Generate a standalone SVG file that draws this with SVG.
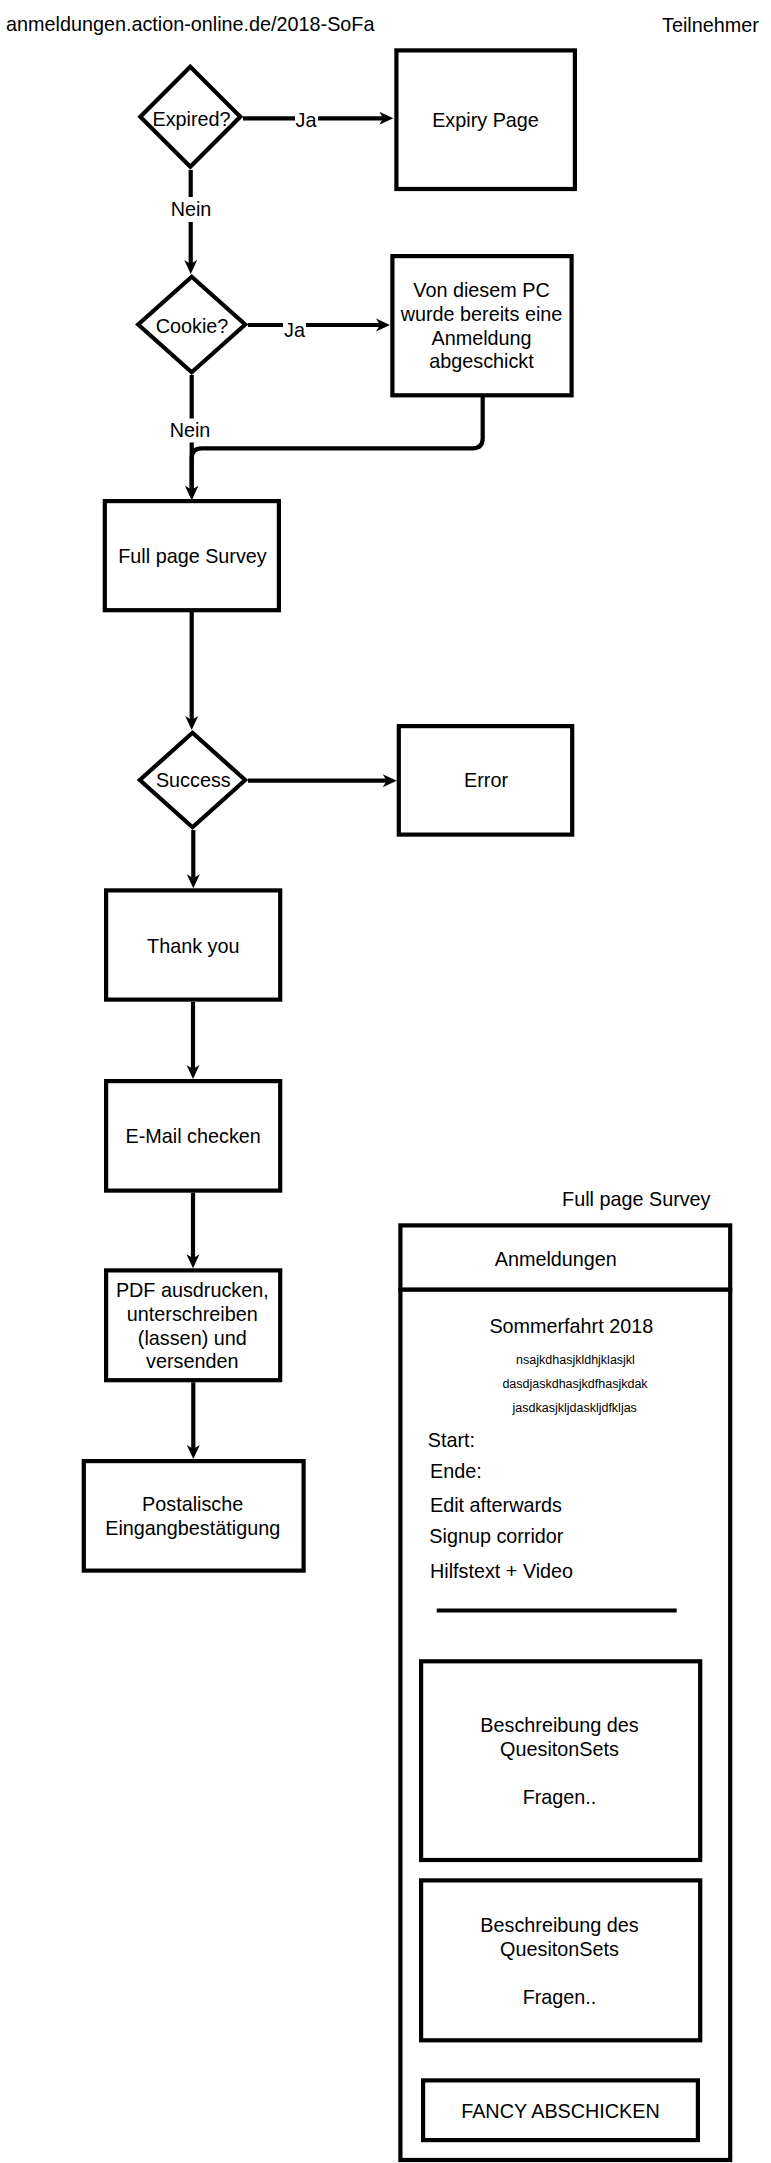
<svg xmlns="http://www.w3.org/2000/svg" width="771" height="2163" viewBox="0 0 771 2163">
<style>
text{font-family:"Liberation Sans",Arial,Helvetica,sans-serif;font-size:19.8px;fill:#000}
.c{text-anchor:middle}
.s{font-size:12.5px}
.shape{fill:#fff;stroke:#000;stroke-width:4.2}
.edge{fill:none;stroke:#000;stroke-width:4.2}
.arr{marker-end:url(#ah)}
.lbg{fill:#fff}
</style>
<defs>
<marker id="ah" markerUnits="userSpaceOnUse" markerWidth="16" markerHeight="16" refX="6" refY="6.5" orient="auto" overflow="visible">
<path d="M0,0 L14,6.5 L0,13 L4,6.5 Z" fill="#000"/>
</marker>
</defs>
<rect width="771" height="2163" fill="#fff"/>
<g id="title"><text x="6" y="30.7">anmeldungen.action-online.de/2018-SoFa</text></g>
<g id="teilnehmer"><text x="662" y="32">Teilnehmer</text></g>
<g id="connectors">
<path class="edge arr" d="M243 118.3 H385.3"/>
<path class="edge arr" d="M190.7 170 V266"/>
<path class="edge arr" d="M248 325 H382"/>
<path class="edge arr" d="M191.7 375 V492"/>
<path class="edge arr" d="M482.7 397 V438.3 Q482.7 448.3 472.7 448.3 H201.7 Q191.7 448.3 191.7 458.3 V492"/>
<path class="edge arr" d="M191.7 612 V722"/>
<path class="edge arr" d="M248 780.7 H388.7"/>
<path class="edge arr" d="M193.3 830 V880.3"/>
<path class="edge arr" d="M193 1002 V1071"/>
<path class="edge arr" d="M193 1192.7 V1260.3"/>
<path class="edge arr" d="M193.3 1382.3 V1451"/>
<rect class="lbg" x="295" y="109" width="23" height="21"/>
<text class="c" x="306" y="126.7">Ja</text>
<rect class="lbg" x="283" y="320" width="23" height="20"/>
<text class="c" x="294.5" y="336.7">Ja</text>
<rect class="lbg" x="170" y="197" width="42" height="25"/>
<text class="c" x="191" y="216">Nein</text>
<rect class="lbg" x="169" y="418.5" width="42" height="24"/>
<text class="c" x="190" y="436.7">Nein</text>
</g>
<g id="expired"><polygon class="shape" points="190.3,66.7 240.3,116.7 190.3,166.7 140.3,116.7"/><text class="c" x="191.5" y="126">Expired?</text></g>
<g id="expiry-page"><rect class="shape" x="396.4" y="50.4" width="178.5" height="138.6"/><text class="c" x="485.5" y="126.7">Expiry Page</text></g>
<g id="cookie"><polygon class="shape" points="191.7,276.8 245.2,324.5 191.7,372.2 138.2,324.5"/><text class="c" x="192" y="333.3">Cookie?</text></g>
<g id="already-sent"><rect class="shape" x="392.4" y="256.1" width="179.2" height="139.2"/>
<text class="c" x="481.5" y="296.7">Von diesem PC</text>
<text class="c" x="481.5" y="320.7">wurde bereits eine</text>
<text class="c" x="481.5" y="345">Anmeldung</text>
<text class="c" x="481.5" y="368.3">abgeschickt</text></g>
<g id="survey"><rect class="shape" x="104.8" y="501.1" width="174.1" height="109.1"/><text class="c" x="192.5" y="563.3">Full page Survey</text></g>
<g id="success"><polygon class="shape" points="192.5,732.8 245.2,780 192.5,827.2 139.8,780"/><text class="c" x="193.3" y="787.3">Success</text></g>
<g id="error"><rect class="shape" x="398.8" y="726.1" width="173.4" height="108.5"/><text class="c" x="486" y="787.3">Error</text></g>
<g id="thank-you"><rect class="shape" x="106.1" y="890.4" width="174.1" height="109.2"/><text class="c" x="193.3" y="952.7">Thank you</text></g>
<g id="email"><rect class="shape" x="106.1" y="1081.1" width="174.1" height="109.5"/><text class="c" x="193.2" y="1142.7">E-Mail checken</text></g>
<g id="pdf"><rect class="shape" x="106.1" y="1270.4" width="174.1" height="109.8"/>
<text class="c" x="192.3" y="1296.7">PDF ausdrucken,</text>
<text class="c" x="192.3" y="1320.7">unterschreiben</text>
<text class="c" x="192.3" y="1345">(lassen) und</text>
<text class="c" x="192.3" y="1368.3">versenden</text></g>
<g id="postal"><rect class="shape" x="83.8" y="1461.1" width="219.8" height="109.5"/>
<text class="c" x="192.7" y="1510.7">Postalische</text>
<text class="c" x="192.7" y="1535">Eingangbestätigung</text></g>
<g id="survey-mockup">
<text class="c" x="636.3" y="1206">Full page Survey</text>
<rect class="shape" x="400.4" y="1289.5" width="329.8" height="870.5"/>
<rect class="shape" x="400.4" y="1225.4" width="329.8" height="64.1"/>
<text class="c" x="555.8" y="1266">Anmeldungen</text>
<text class="c" x="571.3" y="1332.7">Sommerfahrt 2018</text>
<text class="c s" x="575.5" y="1364">nsajkdhasjkldhjklasjkl</text>
<text class="c s" x="575" y="1388">dasdjaskdhasjkdfhasjkdak</text>
<text class="c s" x="574.7" y="1411.7">jasdkasjkljdaskljdfkljas</text>
<text x="427.7" y="1447.3">Start:</text>
<text x="430" y="1477.7">Ende:</text>
<text x="430" y="1512.3">Edit afterwards</text>
<text x="429.3" y="1542.7">Signup corridor</text>
<text x="430" y="1577.7">Hilfstext + Video</text>
<line class="edge" x1="436.7" y1="1610.5" x2="676.7" y2="1610.5"/>
<g id="questionset-1"><rect class="shape" x="421.1" y="1661.3" width="279.1" height="198.7"/>
<text class="c" x="559.5" y="1732">Beschreibung des</text>
<text class="c" x="559.5" y="1755.5">QuesitonSets</text>
<text class="c" x="559.5" y="1804">Fragen..</text></g>
<g id="questionset-2"><rect class="shape" x="421.1" y="1880.4" width="279.1" height="159.9"/>
<text class="c" x="559.5" y="1932">Beschreibung des</text>
<text class="c" x="559.5" y="1955.5">QuesitonSets</text>
<text class="c" x="559.5" y="2004">Fragen..</text></g>
<g id="submit"><rect class="shape" x="423.1" y="2080.4" width="274.8" height="59.7"/>
<text class="c" x="560.5" y="2117.8">FANCY ABSCHICKEN</text></g>
</g>
</svg>
